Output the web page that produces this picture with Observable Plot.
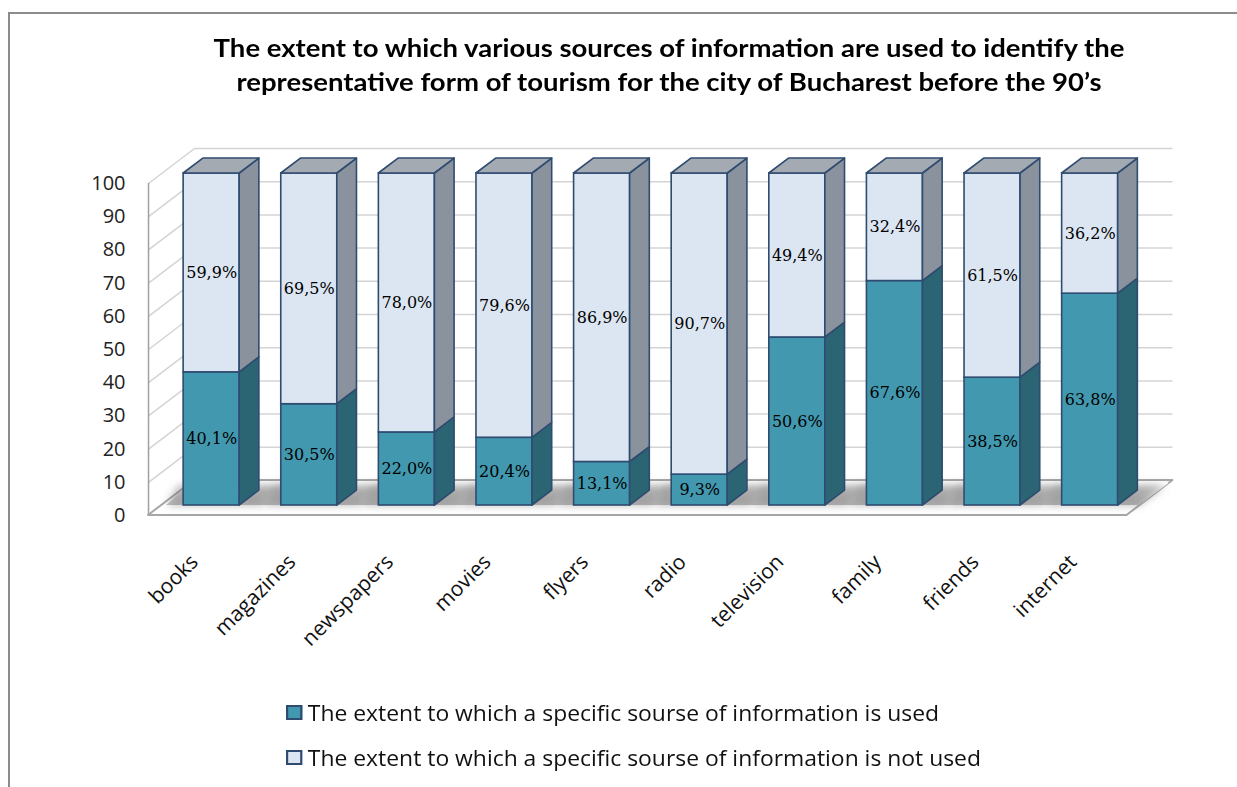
<!DOCTYPE html>
<html>
<head>
<meta charset="utf-8">
<script src="https://cdn.jsdelivr.net/npm/d3@7"></script>
<script src="https://cdn.jsdelivr.net/npm/@observablehq/plot@0.6"></script>
<style>
  html, body { margin: 0; padding: 0; background: #fff; width: 1237px; height: 787px; overflow: hidden; }
  #frame { position: absolute; left: 8px; top: 12px; width: 1320px; height: 820px; border: 2px solid #8c8c8c; border-right: none; border-bottom: none; box-sizing: border-box; }
  #title { position: absolute; left: 169px; width: 1000px; top: 30px; text-align: center; font-family: Lato, sans-serif; font-weight: 700; font-size: 25px; line-height: 34px; color: #000; transform: scaleX(1.1); transform-origin: 500px 0; }
  #chart { position: absolute; left: 0; top: 130px; }
  #legend { position: absolute; left: 286px; top: 690px; font-family: "Open Sans", sans-serif; font-size: 21px; color: #111; transform: scaleX(1.09); transform-origin: 0 0; white-space: nowrap; }
  .item { display: flex; align-items: center; height: 45px; }
  .sw { width: 11px; height: 11px; border: 2px solid #2f4b70; margin-right: 5px; }
</style>
</head>
<body>
<div id="frame"></div>
<div id="title">The extent to which various sources of information are used to identify the<br>representative form of tourism for the city of Bucharest before the 90’s</div>
<div id="chart"></div>
<div id="legend"></div>
<script>
// ---- data ----
const categories = ["books", "magazines", "newspapers", "movies", "flyers", "radio", "television", "family", "friends", "internet"];
const usedValues = [40.1, 30.5, 22.0, 20.4, 13.1, 9.3, 50.6, 67.6, 38.5, 63.8];
const notUsedValues = [59.9, 69.5, 78.0, 79.6, 86.9, 90.7, 49.4, 32.4, 61.5, 36.2];
const seriesNames = ["The extent to which a specific sourse of information is used", "The extent to which a specific sourse of information is not used"];
const yTicks = [0, 10, 20, 30, 40, 50, 60, 70, 80, 90, 100];

// ---- styling / 3D geometry (in scale units) ----
const frontColors = ["#4298ae", "#dce6f2"];
const sideColors = ["#2b6473", "#8a939d"];
const topColor = "#a4aab1";
const edge = "#2f4b70";
const DX = 0.4713, DY = 10.54;   // full floor depth
const dF = 0.286, dB = 0.714;    // bar front / back depth
const HW = 0.287;                // bar half width
const wallL = -0.512, wallR = 9.512;

// build segments
const segs = [];
categories.forEach((c, i) => {
  const u = usedValues[i], n = notUsedValues[i];
  segs.push({i, s: 0, lo: 0, hi: u, v: u});
  segs.push({i, s: 1, lo: u, hi: u + n, v: n});
});
const sidePts = segs.flatMap(d => [
  {key: d.i + "-" + d.s, s: d.s, x: d.i + HW + dF * DX, y1: d.lo + dF * DY, y2: d.hi + dF * DY},
  {key: d.i + "-" + d.s, s: d.s, x: d.i + HW + dB * DX, y1: d.lo + dB * DY, y2: d.hi + dB * DY}
]);
const topPts = categories.flatMap((c, i) => {
  const h = usedValues[i] + notUsedValues[i];
  return [
    {key: i, y: h + dF * DY, x1: i - HW + dF * DX, x2: i + HW + dF * DX},
    {key: i, y: h + dB * DY, x1: i - HW + dB * DX, x2: i + HW + dB * DX}
  ];
});
const floorPts = [
  {y: 0, x1: wallL, x2: wallR},
  {y: DY, x1: wallL + DX, x2: wallR + DX}
];
const bandPts = [
  {y: dF * DY, x1: wallL + dF * DX + 0.05, x2: wallR + dF * DX},
  {y: 0.92 * DY, x1: wallL + 0.92 * DX, x2: wallR + 0.92 * DX}
];
const shadowPts = categories.flatMap((c, i) => [
  {key: i, y: dF * DY, x1: i - HW - 0.16 + dF * DX, x2: i + HW + 0.22 + dF * DX},
  {key: i, y: DY * 0.85, x1: i - HW - 0.16 + 0.85 * DX - 0.15, x2: i + HW + 0.22 + 0.85 * DX}
]);

const plot = Plot.plot({
  width: 1237,
  height: 560,
  style: {background: "transparent", overflow: "visible"},
  x: {type: "linear", domain: [0, 9], range: [198, 1076.5], axis: null},
  y: {type: "linear", domain: [0, 100], range: [385, 53], axis: null},
  marks: [
    // back wall gridlines
    Plot.ruleY(yTicks, {y: d => d + DY, x1: wallL + DX, x2: wallR + DX, stroke: "#d4d4d4", strokeWidth: 1.5}),
    // left wall gridlines
    Plot.link(yTicks, {x1: wallL, y1: d => d, x2: wallL + DX, y2: d => d + DY, stroke: "#d4d4d4", strokeWidth: 1.5}),
    Plot.ruleX([wallL], {y1: 0, y2: 100, stroke: "#a0a0a0", strokeWidth: 1.5}),
    // floor
    Plot.areaX(floorPts, {y: "y", x1: "x1", x2: "x2", fill: "#ffffff", stroke: "#a6a6a6", strokeWidth: 2}),
    Plot.areaX(bandPts, {y: "y", x1: "x1", x2: "x2", fill: "#a1a2a3"}),
    Plot.areaX(shadowPts, {y: "y", x1: "x1", x2: "x2", z: "key", fill: "#6a6a6a", fillOpacity: 0.5, ariaLabel: () => "shadow"}),
    // bar front faces
    Plot.rect(segs, {
      x1: d => d.i - HW + dF * DX, x2: d => d.i + HW + dF * DX,
      y1: d => d.lo + dF * DY, y2: d => d.hi + dF * DY,
      fill: d => frontColors[d.s], stroke: edge, strokeWidth: 1.6
    }),
    // side faces
    Plot.areaY(sidePts, {x: "x", y1: "y1", y2: "y2", z: "key", fill: d => sideColors[d.s], stroke: edge, strokeWidth: 1.6, strokeLinejoin: "round"}),
    // top faces
    Plot.areaX(topPts, {y: "y", x1: "x1", x2: "x2", z: "key", fill: topColor, stroke: edge, strokeWidth: 1.6, strokeLinejoin: "round"}),
    // value labels
    Plot.text(segs, {
      x: d => d.i + dF * DX, y: d => (d.lo + d.hi) / 2 + dF * DY,
      text: d => d.v.toFixed(1).replace(".", ",") + "%",
      fontFamily: "DejaVu Serif", fontSize: 16, fill: "#000"
    }),
    // y tick labels
    Plot.text(yTicks, {x: () => wallL, y: d => d, text: d => String(d), dx: -23, textAnchor: "end", fontFamily: "Open Sans", fontSize: 20, fill: "#222"}),
    // x labels
    Plot.text(categories, {x: (d, i) => i, y: () => 0, text: d => d, rotate: -45, textAnchor: "end", dx: -4, dy: 43, fontFamily: "Open Sans", fontSize: 21, fill: "#111"})
  ]
});
document.getElementById("chart").appendChild(plot);

// floor gradient + soft shadow blur
const defs = d3.select(plot).insert("defs", ":first-child");
defs.append("filter").attr("id", "blur").attr("x", "-50%").attr("y", "-50%").attr("width", "200%").attr("height", "200%")
  .append("feGaussianBlur").attr("stdDeviation", 4);
const grad = defs.append("linearGradient").attr("id", "floorGrad").attr("x1", 0).attr("y1", 0).attr("x2", 0).attr("y2", 1);
grad.append("stop").attr("offset", "0%").attr("stop-color", "#ffffff");
grad.append("stop").attr("offset", "55%").attr("stop-color", "#e6e6e6");
grad.append("stop").attr("offset", "100%").attr("stop-color", "#bdbdbd");
d3.select(plot).selectAll('[fill="#a1a2a3"]').attr("fill", "url(#floorGrad)");
d3.select(plot).selectAll('path[aria-label="shadow"]').attr("filter", "url(#blur)");

// legend
const lg = d3.select("#legend");
seriesNames.forEach((name, k) => {
  const it = lg.append("div").attr("class", "item");
  it.append("div").attr("class", "sw").style("background", frontColors[k]);
  it.append("span").text(name);
});
</script>
</body>
</html>
